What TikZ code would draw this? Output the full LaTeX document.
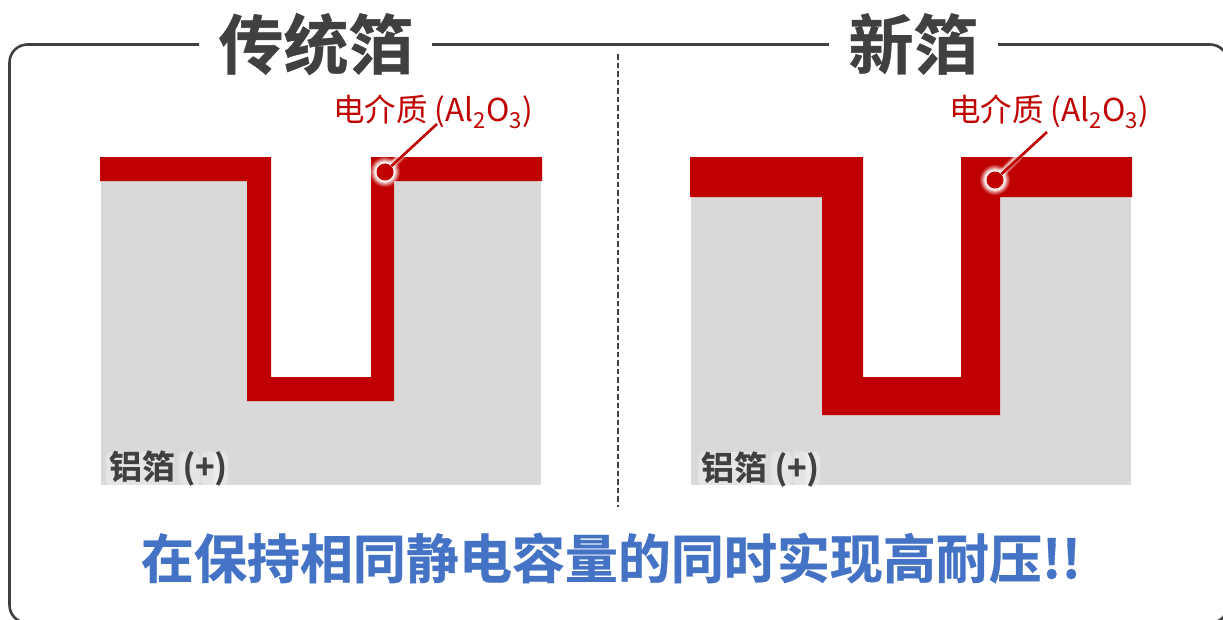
\documentclass[tikz,border=0pt]{standalone}
\usepackage{fontspec}
\setmainfont{Noto Sans}
\newfontfamily\cjk{Noto Sans CJK SC}
\newfontfamily\cjkb[FakeBold=0.6]{Noto Sans CJK SC Bold}
\definecolor{fred}{HTML}{C00000}
\definecolor{fgray}{HTML}{D9D9D9}
\definecolor{fdark}{HTML}{404040}
\definecolor{fblue}{HTML}{4472C4}
\tikzset{
  frameline/.style={draw=fdark,line width=2.6pt},
  titletext/.style={text=fdark,font=\cjkb\fontsize{65}{65}\selectfont,inner sep=0pt},
  slogan/.style={text=fblue,font=\cjkb\fontsize{53}{54}\selectfont,inner sep=0pt},
  redlabel/.style={text=fred,font=\cjk\fontsize{31.5}{32}\selectfont,inner sep=0pt},
  foillabel/.style={text=fdark,font=\cjkb\fontsize{33}{34}\selectfont,inner sep=0pt},
  foilhalo/.style={fill=white,opacity=.3,rounded corners=5pt},
  leaderdot/.style={circle,fill=fred,inner sep=0pt,minimum size=17pt},
  leader/.style={draw=fred,line width=2.6pt},
  redfill/.style={fill=fred},
  grayfill/.style={fill=fgray},
}
\newcommand{\foiltext}{铝箔 (+)}
\newcommand{\halo}[2]{%
  \foreach \a/\b in {0/64,73/90,95/108,107/118}{
    \fill[foilhalo] ({#1+\a-2},{#2-16}) rectangle ({#1+\b+2},{#2+18});
  }}
\begin{document}
\begin{tikzpicture}[x=1pt,y=-1pt]
\useasboundingbox (0,0) rectangle (1223,619);
\fill[white] (0,0) rectangle (1223,619);
% frame
\coordinate (fa) at (199,44.5);
\coordinate (fb) at (432,44.5);
\coordinate (fc) at (829,44.5);
\coordinate (fd) at (998,44.5);
\begin{scope}
\clip (0,0) rectangle (1223,619);
\draw[frameline,rounded corners=18pt] (fa) -- (9.5,44.5) -- (9.5,623) -- (1228,623) -- (1228,44.5) -- (fd);
\end{scope}
\draw[frameline] (fb) -- (fc);
% divider
\coordinate (da) at (618,54);
\coordinate (db) at (618,507);
\draw[fdark,line width=1.1pt,dash pattern=on 5.5pt off 3pt] (da) -- (db);
% left foil
\fill[grayfill] (101,181) rectangle (541,485);
\fill[white] (271,157) rectangle (371,377);
\fill[redfill] (100,157) -- (271,157) -- (271,377) -- (371,377) -- (371,157) -- (542,157)
  -- (542,181) -- (394,181) -- (394,401) -- (247,401) -- (247,181) -- (100,181) -- cycle;
% right foil
\fill[grayfill] (691,197) rectangle (1131,485);
\fill[white] (863,157) rectangle (961,377);
\fill[redfill] (690,157) -- (863,157) -- (863,377) -- (961,377) -- (961,157) -- (1132,157)
  -- (1132,197) -- (1000,197) -- (1000,415) -- (822,415) -- (822,197) -- (690,197) -- cycle;
% titles
\node[titletext,anchor=center] (t1) at (316,44) {传统箔};
\node[titletext,anchor=center] (t2) at (913.5,44) {新箔};
% dielectric labels
\node[redlabel,anchor=center] (l1) at (433,112) {电介质 (Al\textsubscript{2}O\textsubscript{3})};
\node[redlabel,anchor=center] (l2) at (1049,112) {电介质 (Al\textsubscript{2}O\textsubscript{3})};
% leader glows
\foreach \r/\o in {15/.15,14/.2,13/.25,12/.35,11/.5,10/.7}{
  \fill[white,opacity=\o] (385,172) circle (\r pt);
  \fill[white,opacity=\o] (995,180) circle (\r pt);
}
\foreach \w/\o in {9/.15,7/.3,5/.5}{
  \draw[white,opacity=\o,line width=\w pt] (385,172) -- (405,152);
  \draw[white,opacity=\o,line width=\w pt] (995,180) -- (1020,155);
}
\node[leaderdot] (d1) at (385,172) {};
\node[leaderdot] (d2) at (995,180) {};
\coordinate (e1) at (437,124);
\coordinate (e2) at (1047,132);
\draw[leader] (d1) -- (e1);
\draw[leader] (d2) -- (e2);
% foil labels with soft halo
\halo{108}{468}
\halo{700}{468}
\node[foillabel,anchor=center] (f1) at (168,468) {\foiltext};
\node[foillabel,anchor=center] (f2) at (760,469) {\foiltext};
% slogan
\node[slogan,anchor=center] (s) at (611,558) {在保持相同静电容量的同时实现高耐压!!};
\end{tikzpicture}
\end{document}
